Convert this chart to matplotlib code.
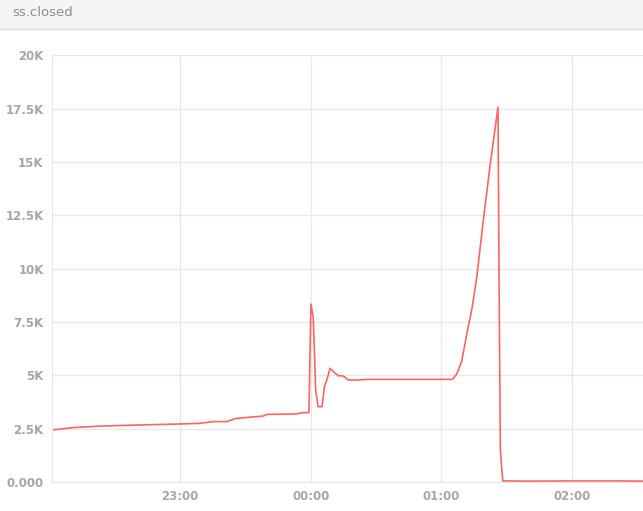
import matplotlib.pyplot as plt
from matplotlib.patches import Rectangle
from matplotlib.lines import Line2D

# minutes relative to 23:00
minutes = [-58.8, -49.1, -36.7, -20, 0, 9.2, 15.2, 21.6, 25.3, 28.9, 38.1, 39.9,
           53.7, 56.0, 59.2, 60.1, 61.2, 62.3, 63.4, 65.2, 66.3, 67.4, 68.9,
           70.8, 72.7, 75.0, 77.3, 81.1, 85.7, 100, 125.1, 127.0, 129.3, 131.8,
           134.1, 136.2, 139.3, 142.3, 146.0, 146.5, 147.1, 148.2, 160, 180, 200, 212.6]
closed = [2.44, 2.55, 2.62, 2.67, 2.72, 2.75, 2.83, 2.83, 2.97, 3.01, 3.09, 3.17,
          3.19, 3.25, 3.25, 8.34, 7.67, 4.31, 3.53, 3.53, 4.47, 4.78, 5.33,
          5.14, 4.98, 4.97, 4.78, 4.78, 4.81, 4.81, 4.81, 5.05, 5.64, 7.0,
          8.15, 9.55, 12.28, 14.78, 17.57, 9.47, 1.5, 0.05, 0.04, 0.05, 0.05, 0.04]
closed = [v * 1000 for v in closed]

yticks = [0, 2500, 5000, 7500, 10000, 12500, 15000, 17500, 20000]
ylabels = ['0.000', '2.5K', '5K', '7.5K', '10K', '12.5K', '15K', '17.5K', '20K']
xticks = [0, 60, 120, 180]
xlabels = ['23:00', '00:00', '01:00', '02:00']

fig = plt.figure(figsize=(6.43, 5.11), dpi=100)

# title bar
fig.patches.append(Rectangle((0, 1 - 29 / 511), 1, 29 / 511, transform=fig.transFigure,
                             facecolor='#f5f5f5', edgecolor='none'))
fig.lines.append(Line2D([0, 1], [1 - 29.5 / 511] * 2, transform=fig.transFigure,
                        color='#dddddd', linewidth=1))
fig.text(12 / 643, 1 - 13 / 511, 'ss.closed', color='#8c8c8c', fontsize=9.5,
         va='center', ha='left')

ax = fig.add_axes([52 / 643, 29 / 511, 1 - 52 / 643, 426.7 / 511])
ax.plot(minutes, closed, color='#ff6464', linewidth=1.2)

ax.set_xlim(-58.8, 212.6)
ax.set_ylim(0, 20000)
ax.set_yticks(yticks)
ax.set_yticklabels(ylabels)
ax.set_xticks(xticks)
ax.set_xticklabels(xlabels)

ax.grid(True, color='#e8e8e8', linewidth=1)
ax.set_axisbelow(True)
for s in ['top', 'right']:
    ax.spines[s].set_visible(False)
ax.spines['left'].set_color('#e8e8e8')
ax.spines['bottom'].set_color('#e8e8e8')
ax.tick_params(length=0, pad=6, labelsize=8.5, labelcolor='#a6a6a6')
for lab in ax.get_xticklabels() + ax.get_yticklabels():
    lab.set_fontweight('bold')

fig.savefig('out.png', dpi=100)
